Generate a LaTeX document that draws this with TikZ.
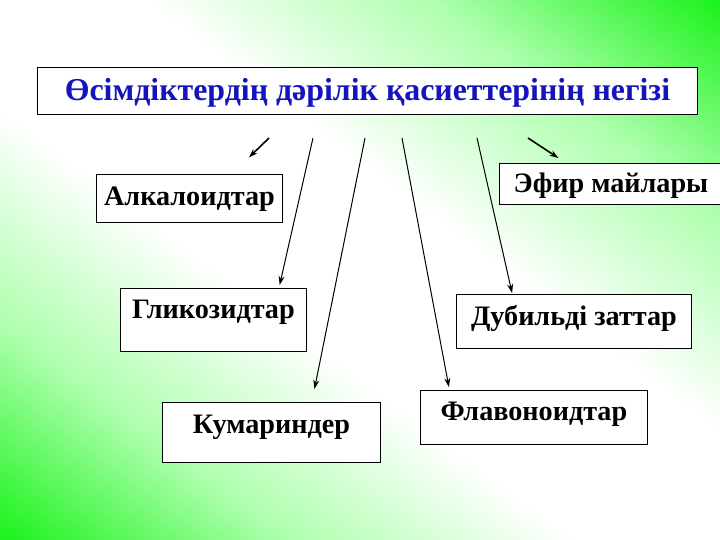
\documentclass[tikz,border=0pt]{standalone}
\usepackage{fontspec}
\setmainfont{Liberation Serif}
\usetikzlibrary{arrows.meta}
\definecolor{title blue}{RGB}{20,20,190}
\pgfdeclarehorizontalshading{slide bg}{100bp}{rgb(0bp)=(.1,.95,.1); rgb(25bp)=(.1,.95,.1); rgb(35bp)=(.68,1,.68); rgb(45bp)=(1,1,1); rgb(55bp)=(1,1,1); rgb(65bp)=(.68,1,.68); rgb(75bp)=(.1,.95,.1); rgb(100bp)=(.1,.95,.1)}
\begin{document}
\begin{tikzpicture}[x=1bp, y=-1bp,
  box/.style={draw, fill=white, line width=0.9bp, inner sep=0pt, anchor=north west, font=\fontsize{28.3}{30}\selectfont\bfseries},
  link/.style={-{Stealth[length=9bp, width=6bp]}, line width=1bp}]
\useasboundingbox (0,0) rectangle (720,540);
% background
\begin{scope}
\clip (0,0) rectangle (720,540);
\begin{scope}[transform canvas={shift={(360,270)}, rotate=53.13}]
\shade[shading=slide bg] (-432,-500) rectangle (432,500);
\end{scope}
\end{scope}

\node[box, text=title blue, font=\fontsize{32}{34}\selectfont\bfseries, minimum width=660bp, text height=33bp, text depth=14bp] (Title) at (37,67) {Өсімдіктердің дәрілік қасиеттерінің негізі};

\node[box, minimum width=186bp, text height=31bp, text depth=17bp] (Alkaloid) at (96,174) {Алкалоидтар};
\node[box, minimum width=186bp, text height=30bp, text depth=33bp] (Glikozid) at (120,288) {Гликозидтар};
\node[box, minimum width=218bp, text height=31bp, text depth=29bp] (Kumarin) at (162,402) {Кумариндер};
\node[box, minimum width=223bp, text height=29bp, text depth=12bp] (Efir) at (499,163) {Эфир майлары};
\node[box, minimum width=235bp, text height=31bp, text depth=23bp] (Dubildi) at (456,294) {Дубильді заттар};
\node[box, minimum width=227bp, text height=30bp, text depth=24bp] (Flavonoid) at (420,390) {Флавоноидтар};

\coordinate (From 1) at (269,138);
\coordinate (From 2) at (313,138);
\coordinate (From 3) at (365,138);
\coordinate (From 4) at (402,138);
\coordinate (From 5) at (477,138);
\coordinate (From 6) at (528,138);

\draw[link, line width=1.6bp, shorten >=23.8bp] (From 1) -- (Alkaloid.30.7);
\draw[link, shorten >=3.1bp] (From 2) -- (Glikozid.26.86);
\draw[link, shorten >=13.3bp] (From 3) -- (Kumarin.37.36);
\draw[link, shorten >=3bp] (From 4) -- (Flavonoid.162.94);
\draw[link, shorten >=1bp] (From 5) -- (Dubildi.156.23);
\draw[link, line width=1.6bp, shorten >=9bp] (From 6) -- (Efir.155.51);

\end{tikzpicture}
\end{document}
